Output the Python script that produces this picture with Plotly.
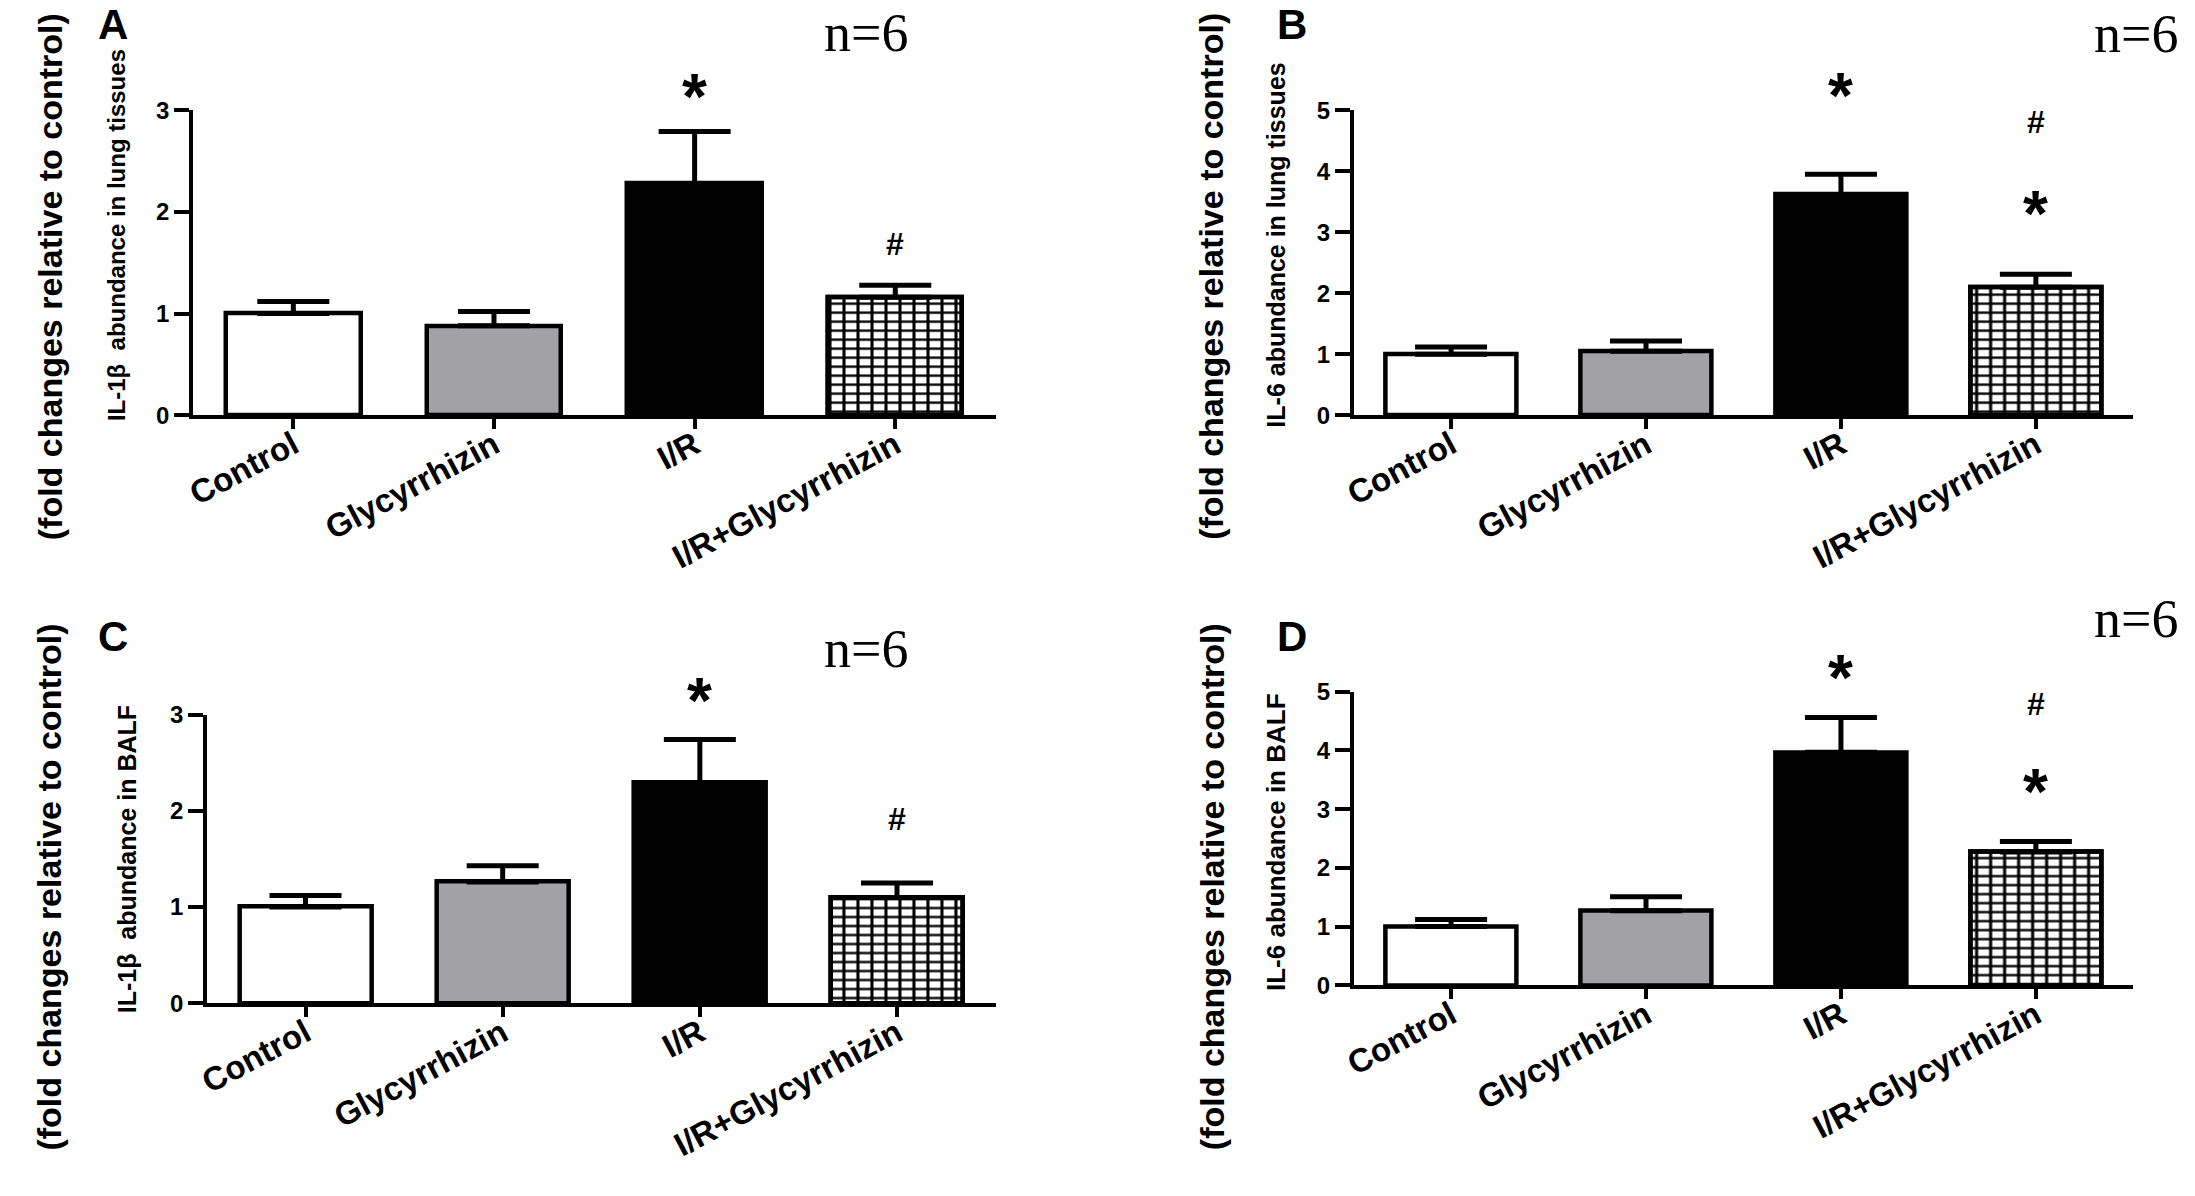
import plotly.graph_objects as go

# ---------------- data ----------------
categories = ["Control", "Glycyrrhizin", "I/R", "I/R+Glycyrrhizin"]

a_mean = [1.00, 0.88, 2.28, 1.16]
a_err = [0.12, 0.14, 0.51, 0.12]
b_mean = [1.00, 1.05, 3.62, 2.10]
b_err = [0.12, 0.17, 0.33, 0.21]
c_mean = [1.00, 1.26, 2.29, 1.10]
c_err = [0.12, 0.17, 0.45, 0.15]
d_mean = [1.00, 1.27, 3.97, 2.27]
d_err = [0.12, 0.24, 0.59, 0.18]

ticks_3 = [0, 1, 2, 3]
ticks_5 = [0, 1, 2, 3, 4, 5]

a_marks = [("*", "I/R", 3.19), ("#", "I/R+Glycyrrhizin", 1.64)]
b_marks = [("*", "I/R", 5.33), ("#", "I/R+Glycyrrhizin", 4.73), ("*", "I/R+Glycyrrhizin", 3.39)]
c_marks = [("*", "I/R", 3.20), ("#", "I/R+Glycyrrhizin", 1.86)]
d_marks = [("*", "I/R", 5.33), ("#", "I/R+Glycyrrhizin", 4.71), ("*", "I/R+Glycyrrhizin", 3.39)]

common_title = "(fold changes relative to control)"
a_title = "IL-1β\u00a0 abundance in lung tissues"
b_title = "IL-6 abundance in lung tissues"
c_title = "IL-1β\u00a0 abundance in BALF"
d_title = "IL-6 abundance in BALF"
n_label = "n=6"

# ---------------- layout / style ----------------
W, H = 2195, 1196
SANS = "Liberation Sans, Arial, sans-serif"
SERIF = "Liberation Serif, Times New Roman, serif"
bar_colors = ["#ffffff", "#a2a2a6", "#000000", "#000000"]

panels = [
    dict(letter="A", mean=a_mean, err=a_err, ticks=ticks_3, marks=a_marks, title=a_title,
         xpx=(182, 989), ypx=(108, 414.5), letter_xy=(102, 22), n_xy=(859, 30),
         t1_xy=(39, 275), t2_xy=(105, 233), t2_size=24),
    dict(letter="B", mean=b_mean, err=b_err, ticks=ticks_5, marks=b_marks, title=b_title,
         xpx=(1349, 2133), ypx=(108, 414.5), letter_xy=(1287, 22), n_xy=(2136, 31),
         t1_xy=(1206, 275), t2_xy=(1271, 244), t2_size=25),
    dict(letter="C", mean=c_mean, err=c_err, ticks=ticks_3, marks=c_marks, title=c_title,
         xpx=(196, 989), ypx=(715, 1005), letter_xy=(102, 637), n_xy=(859, 649),
         t1_xy=(37, 888), t2_xy=(116, 860), t2_size=25),
    dict(letter="D", mean=d_mean, err=d_err, ticks=ticks_5, marks=d_marks, title=d_title,
         xpx=(1349, 2133), ypx=(692, 987), letter_xy=(1287, 637), n_xy=(2136, 619),
         t1_xy=(1206, 888), t2_xy=(1271, 843), t2_size=26),
]


def px_x(x):
    return x / W


def px_y(y):
    # small vertical calibration measured from an earlier render
    y = (y - 11.4) / 0.9817
    return 1 - y / H


fig = go.Figure()
annotations = []
layout_axes = {}

for i, p in enumerate(panels, start=1):
    xname = "x" if i == 1 else f"x{i}"
    yname = "y" if i == 1 else f"y{i}"
    xkey = "xaxis" if i == 1 else f"xaxis{i}"
    ykey = "yaxis" if i == 1 else f"yaxis{i}"
    ymax = p["ticks"][-1]

    # main bars; the hatched bar gets the horizontal-line part of its grid
    fig.add_trace(go.Bar(
        x=categories, y=p["mean"], xaxis=xname, yaxis=yname, width=0.67,
        marker=dict(color=bar_colors, line=dict(color="black", width=4.5),
                    pattern=dict(shape=["", "", "", "-"], size=9, solidity=0.26,
                                 fgcolor="black", bgcolor="white", fillmode="replace")),
        error_y=dict(type="data", array=p["err"], arrayminus=[0] * len(p["err"]),
                     symmetric=False, color="black", thickness=5, width=36),
        showlegend=False, hoverinfo="skip",
    ))
    # vertical-line pattern overlaid on the hatched bar -> rectangular grid
    fig.add_trace(go.Bar(
        x=categories[3:], y=p["mean"][3:], xaxis=xname, yaxis=yname, width=0.67,
        marker=dict(color="black", line=dict(color="black", width=4.5),
                    pattern=dict(shape="|", size=14, solidity=0.22,
                                 fgcolor="black", bgcolor="rgba(0,0,0,0)", fillmode="replace")),
        showlegend=False, hoverinfo="skip",
    ))

    layout_axes[xkey] = dict(
        domain=[px_x(p["xpx"][0]), px_x(p["xpx"][1])], anchor=yname,
        range=[-0.5, 3.5], type="category", showgrid=False, zeroline=False,
        showline=True, linecolor="black", linewidth=3.5,
        ticks="outside", ticklen=10, tickwidth=3.5, tickcolor="black",
        tickangle=-28, ticklabelstandoff=-16,
        tickfont=dict(family=SANS, size=33, color="black", weight="bold"),
    )
    layout_axes[ykey] = dict(
        domain=[px_y(p["ypx"][1]), px_y(p["ypx"][0])], anchor=xname,
        range=[0, ymax], tickvals=p["ticks"], showgrid=False, zeroline=False,
        showline=True, linecolor="black", linewidth=3.5,
        ticks="outside", ticklen=15, tickwidth=3.5, tickcolor="black",
        tickfont=dict(family=SANS, size=24, color="black", weight="bold"),
    )

    # significance marks (domain reference so marks above the axis top stay visible)
    for sym, cat, yv in p["marks"]:
        size = 64 if sym == "*" else 32
        annotations.append(dict(
            x=categories.index(cat), y=yv / ymax, xref=xname, yref=f"{yname} domain", text=sym,
            showarrow=False, xanchor="center", yanchor="middle",
            yshift=-6 if sym == "*" else 5,
            font=dict(family=SANS, size=size, color="black", weight="bold"),
        ))

    # panel letter
    annotations.append(dict(
        x=px_x(p["letter_xy"][0]), y=px_y(p["letter_xy"][1]), xref="paper", yref="paper",
        text=p["letter"], showarrow=False, xanchor="center", yanchor="middle",
        font=dict(family=SANS, size=42, color="black", weight="bold"),
    ))
    # n=6
    annotations.append(dict(
        x=px_x(p["n_xy"][0]), y=px_y(p["n_xy"][1]), xref="paper", yref="paper",
        text=n_label, showarrow=False, xanchor="center", yanchor="middle",
        font=dict(family=SERIF, size=54, color="black"),
    ))
    # y titles
    annotations.append(dict(
        x=px_x(p["t1_xy"][0]), y=px_y(p["t1_xy"][1]), xref="paper", yref="paper",
        text=common_title, showarrow=False, textangle=-90, xanchor="center", yanchor="middle",
        font=dict(family=SANS, size=34, color="black", weight="bold"),
    ))
    annotations.append(dict(
        x=px_x(p["t2_xy"][0]), y=px_y(p["t2_xy"][1]), xref="paper", yref="paper",
        text=p["title"], showarrow=False, textangle=-90, xanchor="center", yanchor="middle",
        font=dict(family=SANS, size=p["t2_size"], color="black", weight="bold"),
    ))

fig.update_layout(
    width=W, height=H, margin=dict(l=0, r=0, t=0, b=0),
    paper_bgcolor="white", plot_bgcolor="white",
    barmode="overlay", bargap=0, annotations=annotations,
    **layout_axes,
)

fig.write_html(
    "out.html",
    config={"displayModeBar": False},
    post_script="document.body.style.margin='0';document.body.style.overflow='hidden';",
)
